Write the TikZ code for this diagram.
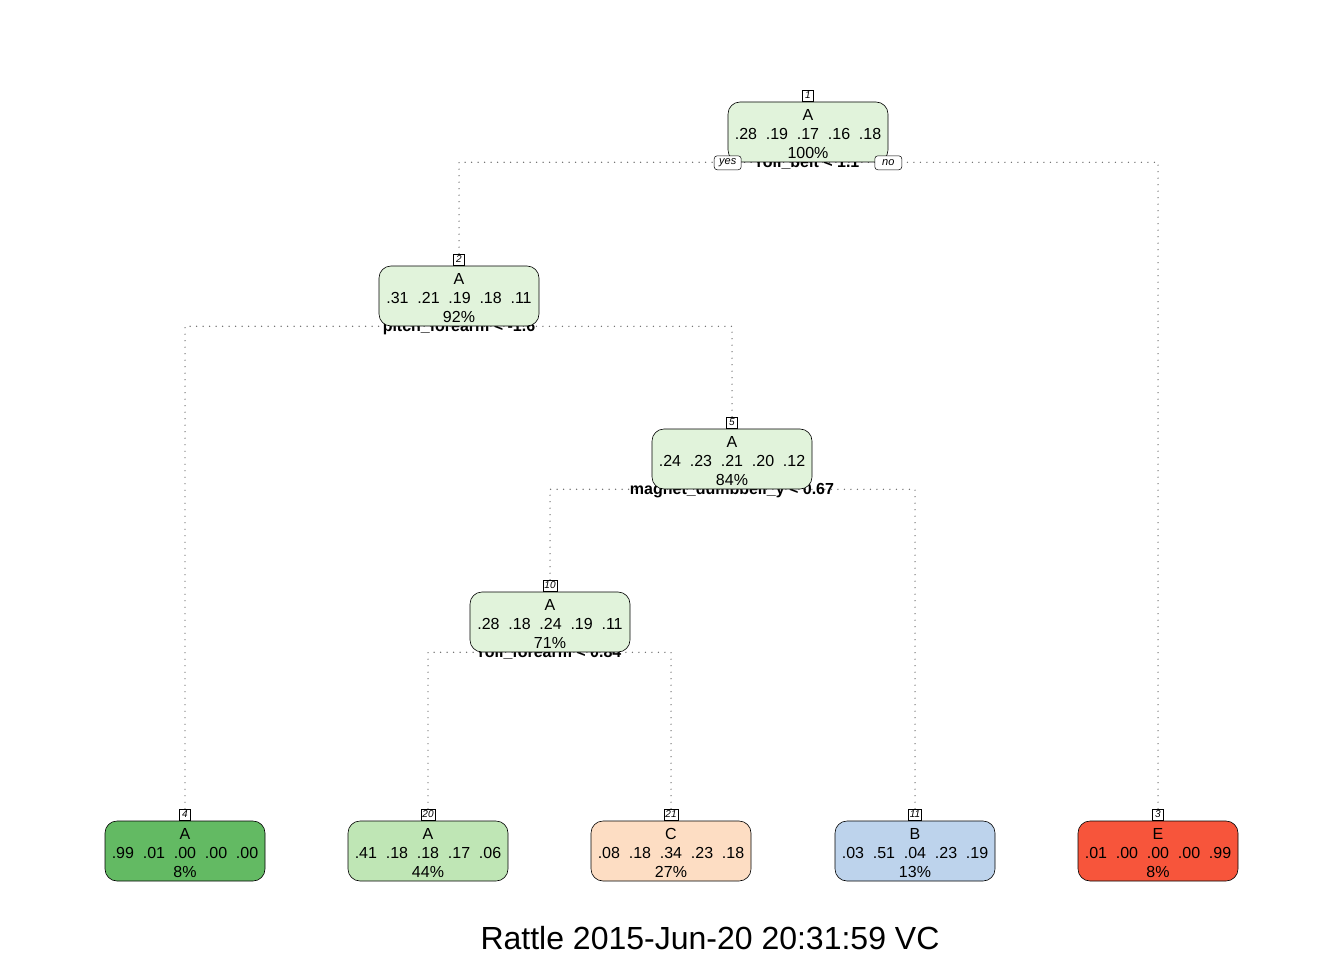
\documentclass[tikz,border=0pt]{standalone}
\usepackage{fontspec}
\setmainfont{Liberation Sans}
\usetikzlibrary{backgrounds}
\definecolor{innergreen}{HTML}{E1F3DB}
\definecolor{leafgreen}{HTML}{63BA63}
\definecolor{paleleaf}{HTML}{BFE6B5}
\definecolor{peach}{HTML}{FDDDC3}
\definecolor{paleblue}{HTML}{BDD3EC}
\definecolor{leafred}{HTML}{F7553B}
\tikzset{
  treebox/.style={draw, line width=0.6pt, rounded corners=12pt, minimum width=160pt,
    minimum height=60pt, inner sep=0pt, align=center, font=\fontsize{16}{19}\selectfont},
  numtag/.style={draw, fill=white, line width=0.5pt, inner sep=1.5pt, minimum width=11pt,
    minimum height=11pt, anchor=south, font=\fontsize{10}{11}\selectfont\itshape},
  yesno/.style={draw, fill=white, line width=0.5pt, rounded corners=3pt, inner sep=1pt,
    minimum width=27pt, minimum height=14pt, font=\fontsize{11}{12}\selectfont\itshape},
  split/.style={anchor=base, inner sep=0pt, font=\fontsize{16}{19}\selectfont\bfseries},
  link/.style={line width=1.4pt, black!60, line cap=round, dash pattern=on 0pt off 6.5pt}
}
\newcommand{\probs}[5]{#1\hspace{0.55em}#2\hspace{0.55em}#3\hspace{0.55em}#4\hspace{0.55em}#5}

\begin{document}
\begin{tikzpicture}[x=1pt, y=-1pt]
\useasboundingbox (0,0) rectangle (1344,960);
% Split nodes
    \node[treebox, fill=innergreen] (n1) at (808,132) {\rule{0pt}{15pt}A\\\probs{.28}{.19}{.17}{.16}{.18}\\100\%};
    \node[treebox, fill=innergreen] (n2) at (459,296) {\rule{0pt}{15pt}A\\\probs{.31}{.21}{.19}{.18}{.11}\\92\%};
    \node[treebox, fill=innergreen] (n5) at (732,459) {\rule{0pt}{15pt}A\\\probs{.24}{.23}{.21}{.20}{.12}\\84\%};
    \node[treebox, fill=innergreen] (n10) at (550,622) {\rule{0pt}{15pt}A\\\probs{.28}{.18}{.24}{.19}{.11}\\71\%};
% Leaves
    \node[treebox, fill=leafgreen] (n4) at (185,851) {\rule{0pt}{15pt}A\\\probs{.99}{.01}{.00}{.00}{.00}\\8\%};
    \node[treebox, fill=paleleaf] (n20) at (428,851) {\rule{0pt}{15pt}A\\\probs{.41}{.18}{.18}{.17}{.06}\\44\%};
    \node[treebox, fill=peach] (n21) at (671,851) {\rule{0pt}{15pt}C\\\probs{.08}{.18}{.34}{.23}{.18}\\27\%};
    \node[treebox, fill=paleblue] (n11) at (915,851) {\rule{0pt}{15pt}B\\\probs{.03}{.51}{.04}{.23}{.19}\\13\%};
    \node[treebox, fill=leafred] (n3) at (1158,851) {\rule{0pt}{15pt}E\\\probs{.01}{.00}{.00}{.00}{.99}\\8\%};
% Node numbers
    \node[numtag] (t1) at ([yshift=0.5pt]n1.north) {1};
    \node[numtag] (t2) at ([yshift=0.5pt]n2.north) {2};
    \node[numtag] (t5) at ([yshift=0.5pt]n5.north) {5};
    \node[numtag] (t10) at ([yshift=0.5pt]n10.north) {10};
    \node[numtag] (t4) at ([yshift=0.5pt]n4.north) {4};
    \node[numtag] (t20) at ([yshift=0.5pt]n20.north) {20};
    \node[numtag] (t21) at ([yshift=0.5pt]n21.north) {21};
    \node[numtag] (t11) at ([yshift=0.5pt]n11.north) {11};
    \node[numtag] (t3) at ([yshift=0.5pt]n3.north) {3};
% Branches and split rules, behind the boxes
    \begin{scope}[on background layer]
    \draw[link] (t2.north) |- (n1.south);
    \draw[link] (t3.north) |- (n1.south);
    \draw[link] (t4.north) |- (n2.south);
    \draw[link] (t5.north) |- (n2.south);
    \draw[link] (t10.north) |- (n5.south);
    \draw[link] (t11.north) |- (n5.south);
    \draw[link] (t20.north) |- (n10.south);
    \draw[link] (t21.north) |- (n10.south);
    \node[split] (s1) at ([yshift=-5pt]n1.south) {roll\_belt < 1.1};
    \node[split] (s2) at ([yshift=-5pt]n2.south) {pitch\_forearm < -1.6};
    \node[split] (s5) at ([yshift=-5pt]n5.south) {magnet\_dumbbell\_y < 0.67};
    \node[split] (s10) at ([yshift=-5pt]n10.south) {roll\_forearm < 0.84};
    \end{scope}
% Branch tags
    \node[yesno] (yes) at ([yshift=-0.5pt]n1.south west) {yes};
    \node[yesno] (no) at ([yshift=-0.5pt]n1.south east) {no};
% Title
    \node[anchor=base, font=\fontsize{32}{38}\selectfont] (title) at (710,949) {Rattle 2015-Jun-20 20:31:59 VC};
\end{tikzpicture}
\end{document}
